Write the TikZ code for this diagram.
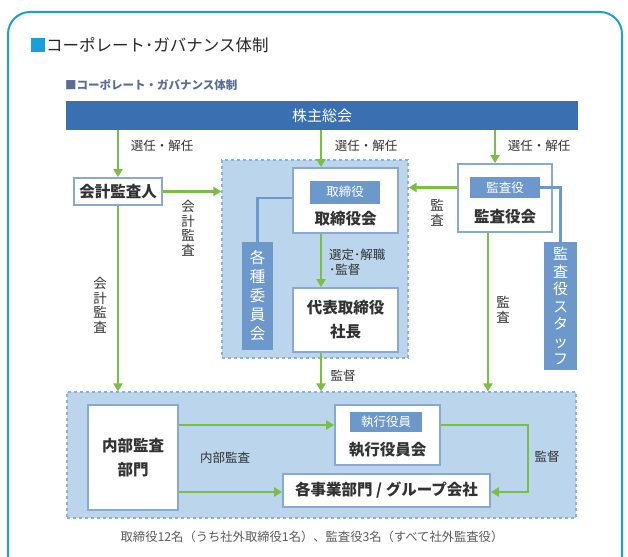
\documentclass[tikz,border=0pt]{standalone}
\usepackage{fontspec}
\setmainfont{Noto Sans CJK JP}
\usetikzlibrary{arrows.meta}
\definecolor{framecyan}{RGB}{25,160,218}
\definecolor{barblue}{RGB}{58,112,178}
\definecolor{chipblue}{RGB}{108,152,204}
\definecolor{zonefill}{RGB}{186,213,236}
\definecolor{zoneline}{RGB}{140,176,214}
\definecolor{boxline}{RGB}{138,168,208}
\definecolor{flowgreen}{RGB}{122,190,70}
\definecolor{inkgray}{RGB}{50,50,50}
\definecolor{subblue}{RGB}{90,108,152}

\begin{document}
\begin{tikzpicture}[x=1pt, y=-1pt, >={Triangle[length=8pt,width=9pt]},
    zone/.style={fill=zonefill, draw=zoneline, dashed, line width=1.2pt, inner sep=0pt},
    panel/.style={draw=boxline, fill=white, line width=1.8pt, inner sep=0pt},
    chip/.style={fill=chipblue, text=white, inner sep=0pt, font=\fontsize{12.5}{14}\selectfont},
    vchip/.style={fill=chipblue, text=white, inner sep=0pt, align=center},
    flow/.style={draw=flowgreen, line width=2.8pt, ->},
    link/.style={draw=chipblue, line width=2.5pt},
    lbl/.style={text=inkgray, inner sep=0pt, align=center, font=\fontsize{12.5}{14.5}\selectfont},
    boxtext/.style={text=inkgray, inner sep=0pt, align=center, font=\bfseries\fontsize{15.5}{24}\selectfont}]
  \useasboundingbox (0,0) rectangle (628,556);
  \draw[framecyan, line width=2pt, rounded corners=22pt] (8,12) rectangle (622,620);

  % title
  \fill[framecyan] (31,38) rectangle (45,52);
  \node[anchor=west, inner sep=0pt, text=black!85, font=\fontsize{16.5}{18}\selectfont] (title) at (46,45) {コーポレート･ガバナンス体制};
  \node[anchor=west, inner sep=0pt, text=subblue, font=\bfseries\fontsize{11.5}{12}\selectfont] (subtitle) at (65,85) {■コーポレート・ガバナンス体制};

  % regions
  \node[zone, minimum width=186, minimum height=198] (board) at (315,259) {};
  \node[zone, minimum width=509, minimum height=126] (exec) at (321.5,455) {};

  % shareholders
  \node[fill=barblue, text=white, minimum width=512, minimum height=29, inner sep=0pt,
    font=\fontsize{15}{15}\selectfont] (kabu) at (322,115.5) {株主総会};

  % boxes
  \node[panel, minimum width=88, minimum height=27] (kaikei) at (118,191.5) {};
  \node[boxtext] at (kaikei) {会計監査人};
  \node[panel, minimum width=105, minimum height=65] (torikai) at (345.5,200.5) {};
  \node[chip, minimum width=70, minimum height=23] (torichip) at (345,192) {取締役};
  \node[boxtext] at (345.5,219) {取締役会};
  \node[panel, minimum width=105, minimum height=64] (daihyo) at (345.5,320) {};
  \node[boxtext] at (daihyo) {代表取締役\\社長};
  \node[vchip, minimum width=31, minimum height=108, font=\fontsize{15.5}{19}\selectfont] (iinkai) at (257.5,296) {各\\種\\委\\員\\会};
  \node[panel, minimum width=94, minimum height=68] (kansakai) at (505,198) {};
  \node[chip, minimum width=70, minimum height=21] (kansachip) at (505,187.5) {監査役};
  \node[boxtext] at (505,217) {監査役会};
  \node[vchip, minimum width=33, minimum height=128, font=\fontsize{15}{17.5}\selectfont] (staff) at (560.5,306) {監\\査\\役\\ス\\タ\\ッ\\フ};
  \node[panel, minimum width=90, minimum height=105] (naibu) at (133,457.5) {};
  \node[boxtext] at (naibu) {内部監査\\部門};
  \node[panel, minimum width=105, minimum height=60] (shikkou) at (387.5,435) {};
  \node[chip, minimum width=72, minimum height=20] (shikkouchip) at (386,422) {執行役員};
  \node[boxtext] at (387.5,450) {執行役員会};
  \node[panel, minimum width=207, minimum height=33] (jigyou) at (386.5,490.5) {};
  \node[boxtext] at (jigyou) {各事業部門 / グループ会社};

  % connectors
  \coordinate (tx) at (321,0);
  \coordinate (kx) at (495,0);
  \coordinate (kz) at (488,0);
  \coordinate (ky) at (0,425);
  \coordinate (jy) at (0,492);
  \coordinate (turn) at (528,0);
  \draw[flow] (kabu.south -| kaikei.north) -- (kaikei.north);
  \draw[flow] (kabu.south -| tx) -- (torikai.north -| tx);
  \draw[flow] (kabu.south -| kx) -- (kansakai.north -| kx);
  \draw[flow] (kaikei.east) -- (board.west |- kaikei.east);
  \draw[flow] (kansakai.west |- kansachip) -- (board.east |- kansachip);
  \draw[flow] (torikai.south -| tx) -- (daihyo.north -| tx);
  \draw[flow] (daihyo.south -| tx) -- (exec.north -| tx);
  \draw[flow] (kaikei.south) -- (exec.north -| kaikei.south);
  \draw[flow] (kansakai.south -| kz) -- (exec.north -| kz);
  \draw[flow] (naibu.east |- ky) -- (shikkou.west |- ky);
  \draw[flow] (naibu.east |- jy) -- (jigyou.west |- jy);
  \draw[flow] (shikkou.east |- ky) -- (turn |- ky) -- (turn |- jy) -- (jigyou.east |- jy);
  \draw[link] (iinkai.north) |- (torikai.west |- 0,198);
  \draw[link] (kansachip.east) -| (staff.north);

  % labels
  \node[lbl] (sen1) at (162,146) {選任・解任};
  \node[lbl] (sen2) at (366,146) {選任・解任};
  \node[lbl] (sen3) at (539,146) {選任・解任};
  \node[lbl, font=\fontsize{13.5}{14.5}\selectfont] (kk1) at (188,228) {会\\計\\監\\査};
  \node[lbl, font=\fontsize{13.5}{14.5}\selectfont] (kk2) at (100,305) {会\\計\\監\\査};
  \node[lbl, font=\fontsize{13.5}{14.5}\selectfont] (ks1) at (437,213) {監\\査};
  \node[lbl, font=\fontsize{13.5}{14.5}\selectfont] (ks2) at (503,310) {監\\査};
  \node[lbl, align=left, anchor=west] (sentei) at (329,262) {選定･解職\\･監督};
  \node[lbl] (kt1) at (343,376) {監督};
  \node[lbl] (nb) at (225,458) {内部監査};
  \node[lbl] (kt2) at (547,457) {監督};
  \node[inner sep=0pt, text=black!65, font=\fontsize{12.3}{13}\selectfont] (note) at (312,537)
    {取締役12名（うち社外取締役1名）、監査役3名（すべて社外監査役）};
\end{tikzpicture}
\end{document}
